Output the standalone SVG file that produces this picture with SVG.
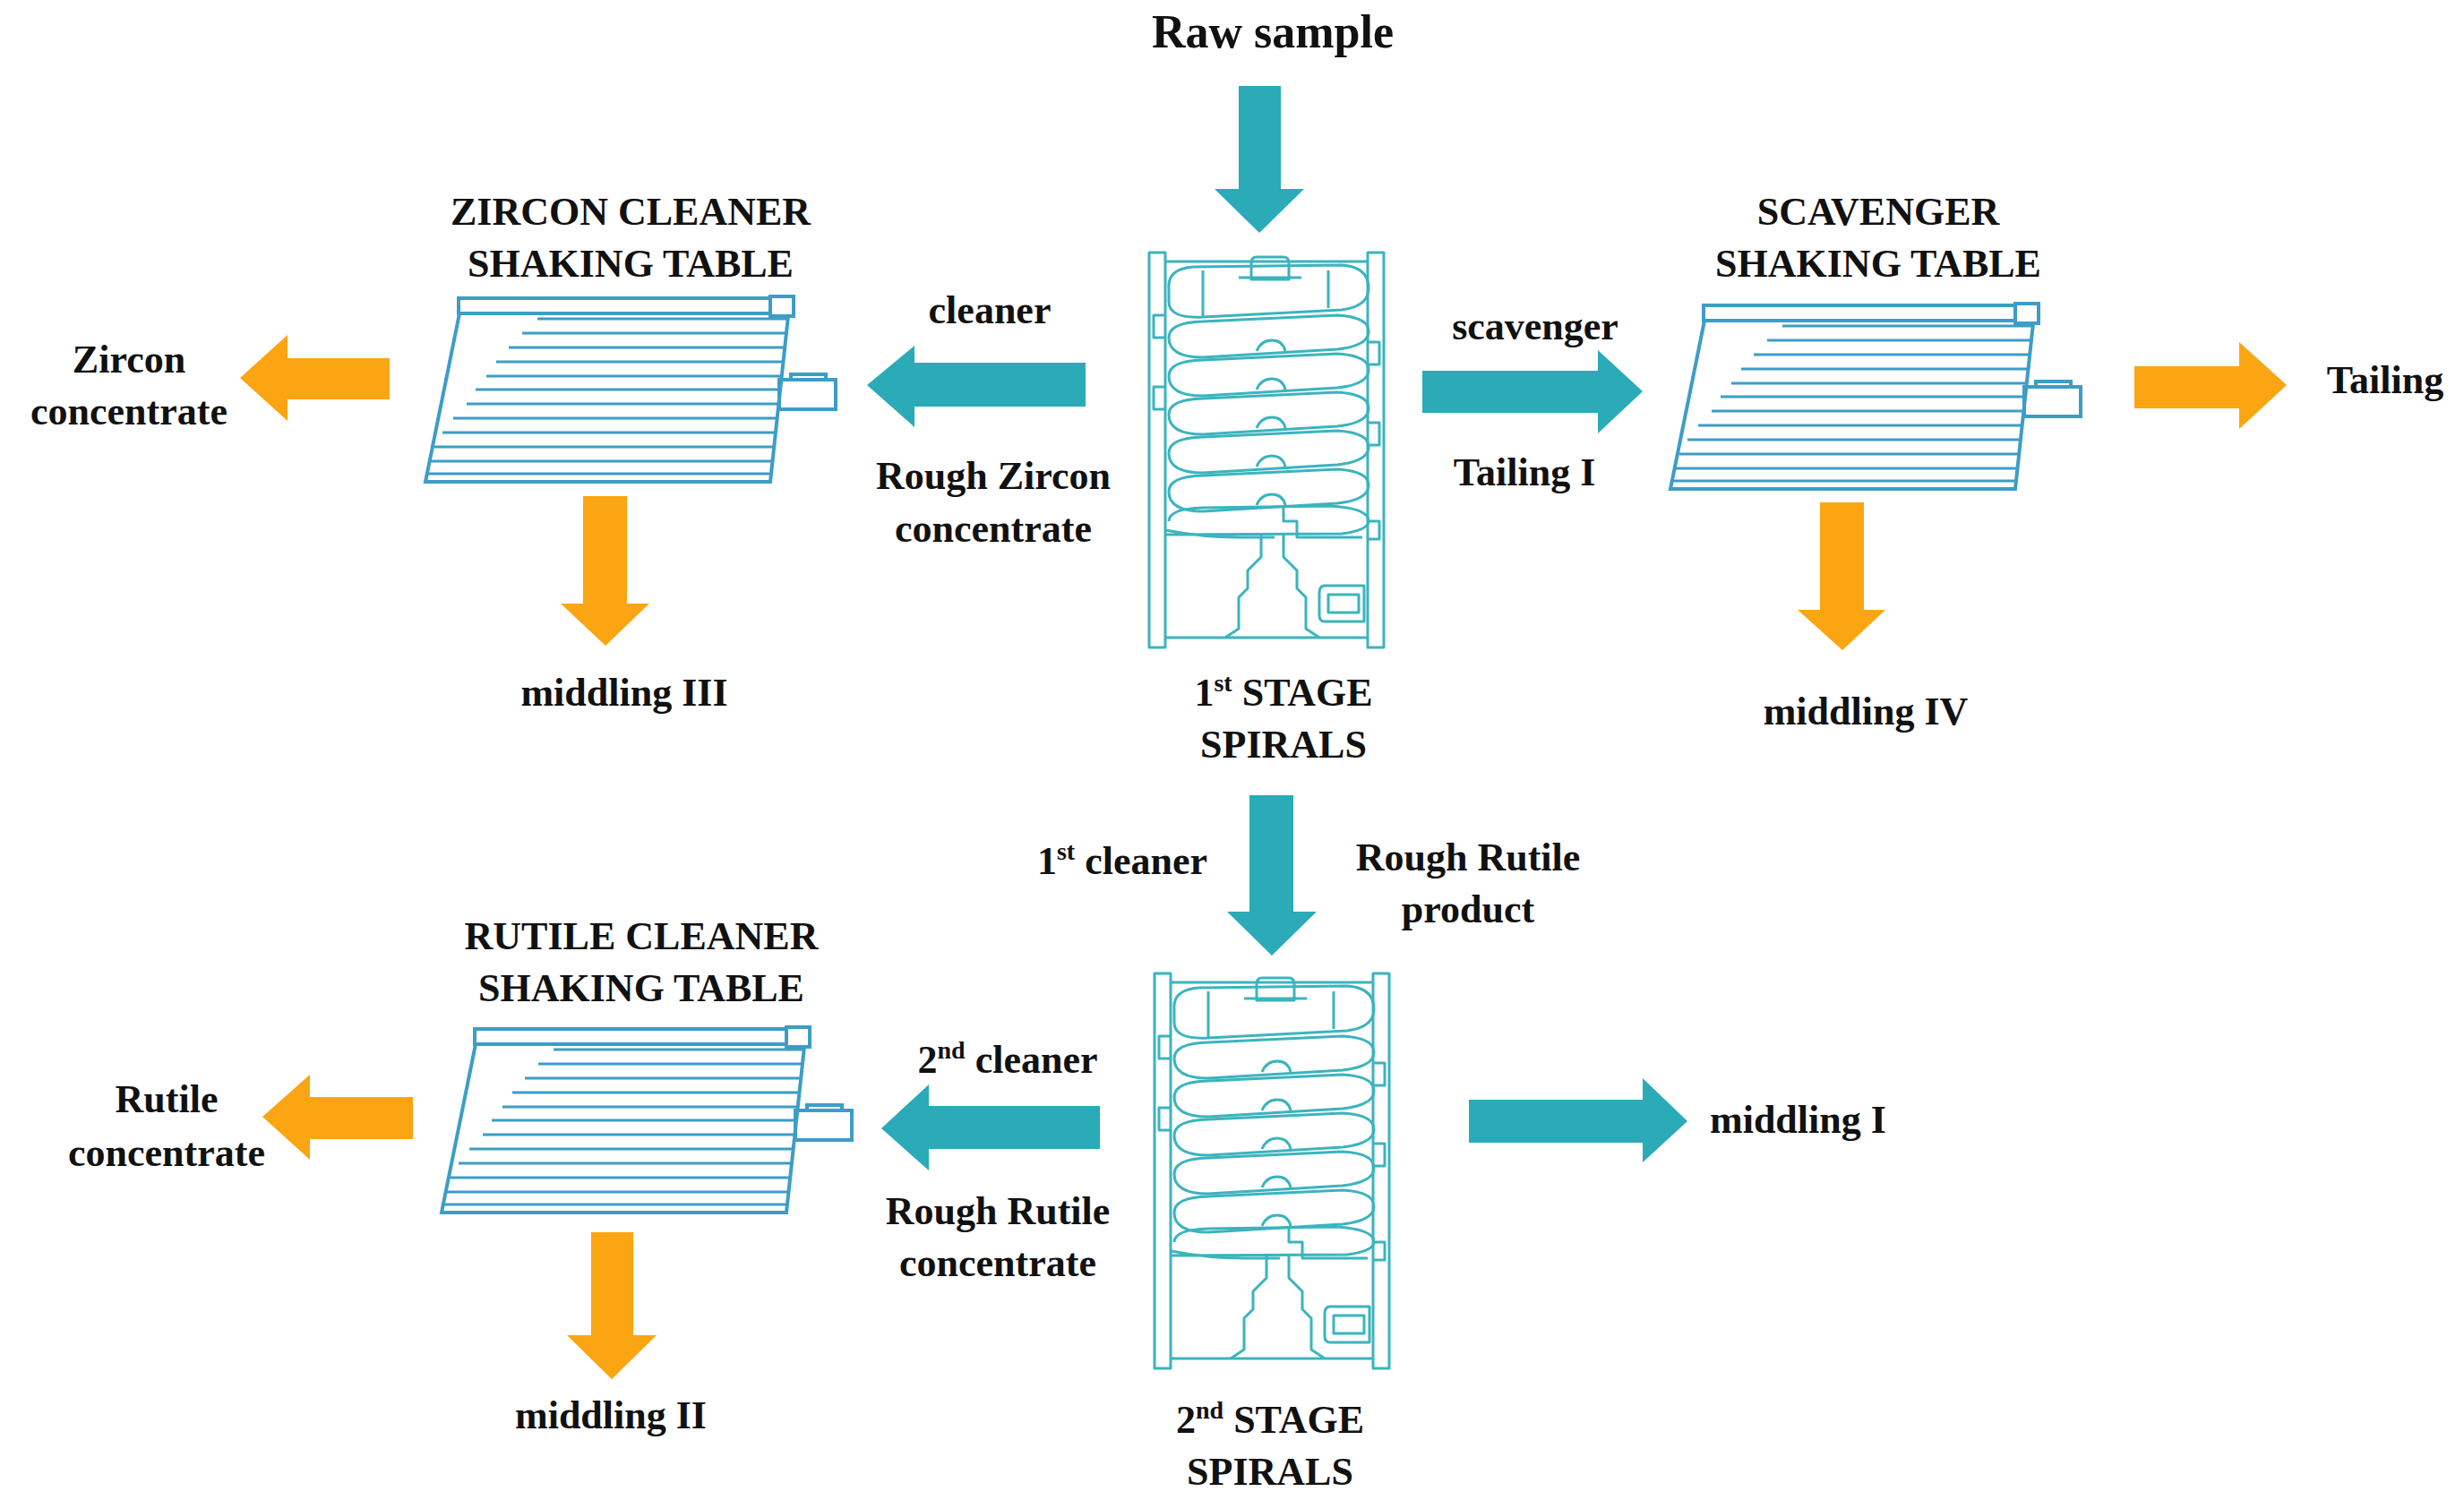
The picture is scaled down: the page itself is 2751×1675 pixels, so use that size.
<svg xmlns="http://www.w3.org/2000/svg" width="2751" height="1675" viewBox="0 0 2751 1675">
<style>
text{font-family:"Liberation Serif",serif;font-weight:bold;font-size:44px;fill:#111;text-anchor:middle}
.teal{fill:#2aabb7}.orange{fill:#fca512}
.tb{fill:none;stroke:#3d9dc6;stroke-width:4}
.tl{fill:none;stroke:#3d9dc6;stroke-width:3}
.sp{fill:none;stroke:#3bb4be;stroke-width:3;stroke-linejoin:round}
</style>
<defs>
<g id="table">
<rect class="tb" x="37" y="0" width="348" height="17"/>
<rect class="tb" x="385" y="-2" width="26" height="22"/>
<path class="tb" d="M38,17 L0,205 L385,205 L405,20"/>
<rect class="tb" x="395" y="91" width="63" height="33"/>
<path class="tb" d="M408,91 V85 H447 V91"/>
<g class="tl">
<path d="M125,23H405M108,39H403M93,55H402M79,71H400M68,87H398M56,102H397M46,118H395M31,134H393M19,150H392M10,166H390M6,182H388M3,196H387"/>
</g>
</g>
<g id="spiral">
<path class="sp" d="M0,0H18V441H0Z M244,0H262V441H244Z M18,430H244 M18,10H244"/>
<path class="sp" d="M120,5 H150 Q156,5 156,12 V30 H114 V12 Q114,5 120,5Z M100,28 H170"/>
<g class="sp">
<path d="M22,40 Q20,18 50,16 L215,14 Q245,16 245,40 Q245,60 215,64 L60,72 Q22,74 22,55Z M60,20V72 M200,20V62"/>
<path d="M22,95 Q22,78 60,77 L210,70 Q245,72 245,88 Q245,104 210,108 L60,117 Q22,117 22,95Z"/>
<path d="M22,138 Q22,121 60,120 L210,113 Q245,115 245,131 Q245,147 210,151 L60,160 Q22,160 22,138Z"/>
<path d="M22,181 Q22,164 60,163 L210,156 Q245,158 245,174 Q245,190 210,194 L60,203 Q22,203 22,181Z"/>
<path d="M22,224 Q22,207 60,206 L210,199 Q245,201 245,217 Q245,233 210,237 L60,246 Q22,246 22,224Z"/>
<path d="M22,267 Q22,250 60,249 L210,242 Q245,244 245,260 Q245,276 210,280 L60,289 Q22,289 22,267Z"/>
<path d="M22,300 Q22,286 60,285 L200,283 Q245,285 245,300 Q245,310 215,314 L18,315 M18,310 Q60,318 100,318 L140,318"/>
<path d="M120,110 Q125,98 137,98 Q149,98 152,110 M120,153 Q125,141 137,141 Q149,141 152,153 M120,196 Q125,184 137,184 Q149,184 152,196 M120,239 Q125,227 137,227 Q149,227 152,239 M120,282 Q125,270 137,270 Q149,270 152,282"/>
<path d="M18,70H5V95H18 M18,150H5V175H18 M244,190H257V215H244 M244,100H257V125H244 M244,300H257V320H244"/>
<path d="M125,315 V340 L110,355 V375 L100,385 V420 L85,430 M150,315 V340 L165,355 V375 L175,385 V420 L190,430"/>
<path d="M150,285 V300 H165 V318 H238"/>
<path d="M196,372 H240 V412 H196 Q190,412 190,405 V380 Q190,372 196,372Z M200,382 H234 V402 H200Z"/>
</g>
</g>
</defs>

<g id="connectors">
<polygon class="teal" points="1383,96 1430,96 1430,211 1456,211 1406,260 1356,211 1383,211"/>
<polygon class="teal" points="1212,405 1212,454 1021,454 1021,477 968,430 1021,386 1021,405"/>
<polygon class="teal" points="1588,414 1784,414 1784,391 1834,437 1784,484 1784,461 1588,461"/>
<polygon class="orange" points="435,400 435,446 321,446 321,470 268,422 321,374 321,400"/>
<polygon class="orange" points="651,554 700,554 700,674 725,674 676,721 626,674 651,674"/>
<polygon class="orange" points="2383,409 2500,409 2500,382 2553,430 2500,479 2500,456 2383,456"/>
<polygon class="orange" points="2032,561 2081,561 2081,681 2105,681 2057,726 2007,681 2032,681"/>
<polygon class="teal" points="1395,888 1444,888 1444,1018 1470,1018 1420,1067 1370,1018 1395,1018"/>
<polygon class="teal" points="1228,1235 1228,1283 1037,1283 1037,1307 984,1260 1037,1211 1037,1235"/>
<polygon class="teal" points="1640,1228 1834,1228 1834,1204 1884,1252 1834,1298 1834,1276 1640,1276"/>
<polygon class="orange" points="461,1225 461,1272 346,1272 346,1295 293,1247 346,1200 346,1225"/>
<polygon class="orange" points="660,1376 707,1376 707,1491 733,1491 683,1540 633,1491 660,1491"/>
</g>

<g id="zircon-table"><use href="#table" x="475" y="333"/></g>
<g id="scavenger-table"><use href="#table" x="1865" y="341"/></g>
<g id="rutile-table"><use href="#table" x="493" y="1149"/></g>
<g id="stage1-spirals"><use href="#spiral" x="1283" y="282"/></g>
<g id="stage2-spirals"><use href="#spiral" x="1289" y="1087"/></g>

<g id="labels">
<text x="1421" y="53" style="font-size:52px">Raw sample</text>
<text x="704" y="251">ZIRCON CLEANER</text>
<text x="704" y="309">SHAKING TABLE</text>
<text x="144" y="416">Zircon</text>
<text x="144" y="474">concentrate</text>
<text x="1105" y="361">cleaner</text>
<text x="1109" y="546">Rough Zircon</text>
<text x="1109" y="605">concentrate</text>
<text x="697" y="788">middling III</text>
<text x="1433" y="788">1<tspan dy="-16" style="font-size:28px">st</tspan><tspan dy="16"> STAGE</tspan></text>
<text x="1433" y="846">SPIRALS</text>
<text x="1714" y="379">scavenger</text>
<text x="1702" y="542">Tailing I</text>
<text x="2097" y="251">SCAVENGER</text>
<text x="2097" y="309">SHAKING TABLE</text>
<text x="2663" y="439">Tailing</text>
<text x="2083" y="809">middling IV</text>
<text x="1253" y="976">1<tspan dy="-16" style="font-size:28px">st</tspan><tspan dy="16"> cleaner</tspan></text>
<text x="1639" y="972">Rough Rutile</text>
<text x="1639" y="1030">product</text>
<text x="716" y="1060">RUTILE CLEANER</text>
<text x="716" y="1118">SHAKING TABLE</text>
<text x="1125" y="1198">2<tspan dy="-16" style="font-size:28px">nd</tspan><tspan dy="16"> cleaner</tspan></text>
<text x="186" y="1242">Rutile</text>
<text x="186" y="1302">concentrate</text>
<text x="1114" y="1367">Rough Rutile</text>
<text x="1114" y="1425">concentrate</text>
<text x="1909" y="1265" style="text-anchor:start">middling I</text>
<text x="682" y="1595">middling II</text>
<text x="1418" y="1600">2<tspan dy="-16" style="font-size:28px">nd</tspan><tspan dy="16"> STAGE</tspan></text>
<text x="1418" y="1658">SPIRALS</text>
</g>
</svg>
